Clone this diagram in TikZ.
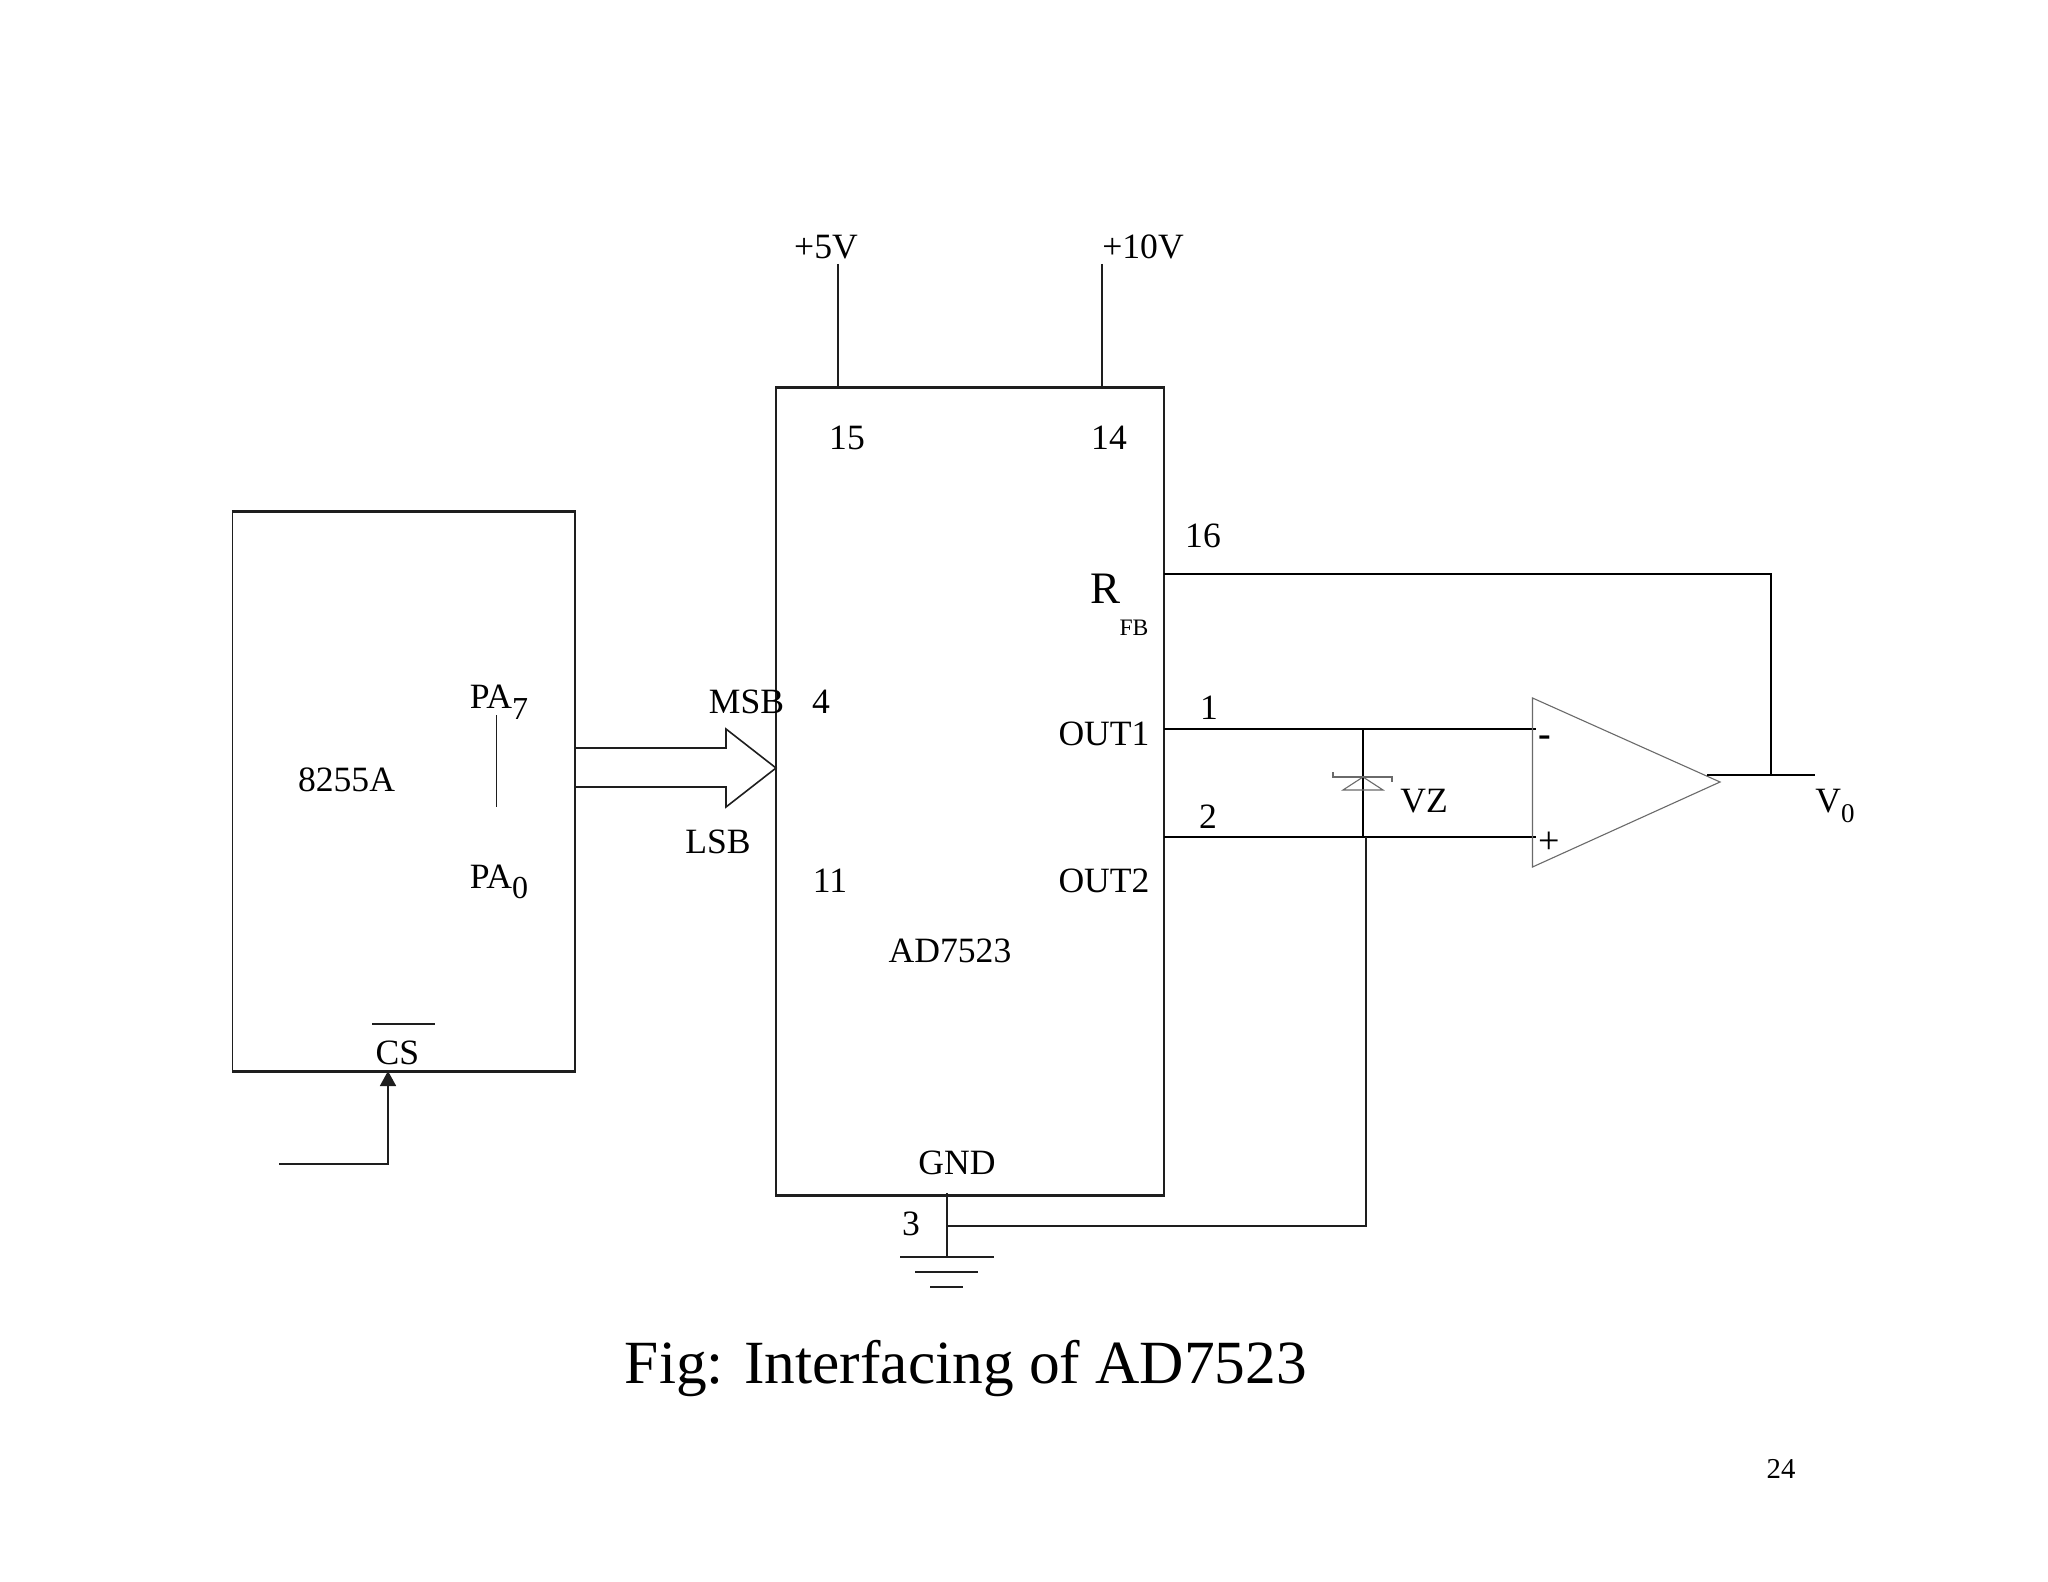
\documentclass[tikz,border=0pt]{standalone}
\usepackage{fontspec}
\usetikzlibrary{arrows.meta}
\setmainfont{Liberation Serif}
\newcommand{\fs}[1]{\fontsize{#1}{#1}\selectfont}
\newcommand{\subdig}[2]{\raisebox{-0.3em}{\fs{#1}#2}}
\definecolor{ink}{HTML}{1E1E1E}
\definecolor{thin}{HTML}{6A6A6A}
\tikzset{
  x=0.5pt,y=-0.5pt,
  lbl/.style={inner sep=0pt,text=black,font=\fs{17.8}},
  box/.style={draw=ink,line width=0.75pt,inner sep=0pt,rectangle},
  edge/.style={draw=ink,line width=1.05pt},
  wire/.style={draw=ink,line width=0.8pt},
  heavy/.style={draw=black,line width=1.3pt},
  fine/.style={draw=thin,line width=0.55pt},
}
\begin{document}
\begin{tikzpicture}
\path[use as bounding box,fill=white] (0,0) rectangle (2048,1582);
% boxes
\node[box,minimum width=171.15pt,minimum height=279.5pt] (ppi) at (403.75,791.5) {};
\node[box,minimum width=194pt,minimum height=403.5pt] (dac) at (970,791.5) {};
\draw[edge] (ppi.north west) -- (ppi.north east);
\draw[edge] (ppi.south west) -- (ppi.south east);
\draw[edge] (dac.north west) -- (dac.north east);
\draw[edge] (dac.south west) -- (dac.south east);
% pins and junctions
\coordinate (v5) at (838,264); \coordinate (p5) at (838,388);
\coordinate (v10) at (1102,264); \coordinate (p10) at (1102,388);
\coordinate (rfb) at (1164,574); \coordinate (fbk) at (1771,574); \coordinate (fbj) at (1771,775);
\coordinate (o1) at (1164,729); \coordinate (o2) at (1164,837);
\coordinate (inm) at (1536,729); \coordinate (inp) at (1536,837);
\coordinate (zt) at (1363,729); \coordinate (zb) at (1363,837);
\coordinate (gj) at (1366,837); \coordinate (gc) at (1366,1226);
\coordinate (gp) at (947,1193); \coordinate (gm) at (947,1226); \coordinate (gg) at (947,1257);
\coordinate (oa1) at (1532.5,698); \coordinate (oa2) at (1532.5,867); \coordinate (oat) at (1720,782);
\coordinate (outa) at (1707,775); \coordinate (outb) at (1815,775);
\coordinate (csa) at (279,1164); \coordinate (csb) at (388,1164); \coordinate (cst) at (388,1071);
\coordinate (zk) at (1363,777); \coordinate (za) at (1343,790); \coordinate (zc) at (1383,790);
% connectors
\draw[wire] (v5) -- (p5);
\draw[wire] (v10) -- (p10);
\draw[heavy] (rfb) -- (fbk) -- (fbj);
\draw[heavy] (o1) -- (inm);
\draw[heavy] (o2) -- (inp);
\draw[heavy] (zt) -- (zb);
\draw[wire] (gj) -- (gc) -- (gm);
\draw[wire] (gp) -- (gg);
\draw[wire] (900,1257) -- (994,1257);
\draw[wire] (915,1272) -- (978,1272);
\draw[wire] (930,1287) -- (963,1287);
\draw[fine] (oa1) -- (oa2) -- (oat) -- cycle;
\draw[heavy] (outa) -- (outb);
\draw[wire,-{Triangle[length=7.5pt,width=8pt]}] (csa) -- (csb) -- (cst);
\draw[wire] (574.9,748) -- (726,748) -- (726,729) -- (776,768) -- (726,807) -- (726,787) -- (574.9,787);
\draw[wire] (496.5,715) -- (496.5,807);
\draw[wire] (372,1024) -- (435,1024);
\draw[fine] (za) -- (zk) -- (zc) -- cycle;
\draw[fine] (1333,772) -- (1333,777) -- (1392,777) -- (1392,782);
% labels
\node[lbl] (l5) at (826,247) {+5V};
\node[lbl] (l10) at (1143,247) {+10V};
\node[lbl] (l15) at (847,438) {15};
\node[lbl] (l14) at (1109,438) {14};
\node[lbl] (l16) at (1203,536) {16};
\node[lbl,font=\fs{22.5}] (lr) at (1105,589) {R};
\node[lbl,font=\fs{11.8}] (lfb) at (1134,628) {FB};
\node[lbl] (lmsb) at (746.5,702) {MSB};
\node[lbl] (l4) at (821,702) {4};
\node[lbl] (llsb) at (718,842) {LSB};
\node[lbl] (l11) at (830,881) {11};
\node[lbl] (lo1) at (1104,734) {OUT1};
\node[lbl] (l1) at (1209,708) {1};
\node[lbl] (l2) at (1208,816.5) {2};
\node[lbl] (lo2) at (1104,881) {OUT2};
\node[lbl] (lad) at (950,951) {AD7523};
\node[lbl] (lgnd) at (957,1163) {GND};
\node[lbl] (l3) at (911,1224) {3};
\node[lbl] (lppi) at (346.5,780) {8255A};
\node[lbl] (lpa7) at (499,702) {PA\subdig{16}{7}};
\node[lbl] (lpa0) at (499,882) {PA\subdig{16}{0}};
\node[lbl] (lcs) at (397.5,1053) {CS};
\node[lbl,font=\fs{19}\bfseries] (lm) at (1545,741) {-};
\node[lbl,font=\fs{19}] (lp) at (1549,843) {+};
\node[lbl] (lvz) at (1424,801) {VZ};
\node[lbl] (lv0) at (1835,806) {V\subdig{13.5}{0}};
\node[lbl,font=\fs{30.7}] (ltitle) at (966,1368) {Fig: Interfacing of AD7523};
\node[lbl,font=\fs{14.4}] (lpage) at (1781,1468.5) {24};
\end{tikzpicture}
\end{document}
